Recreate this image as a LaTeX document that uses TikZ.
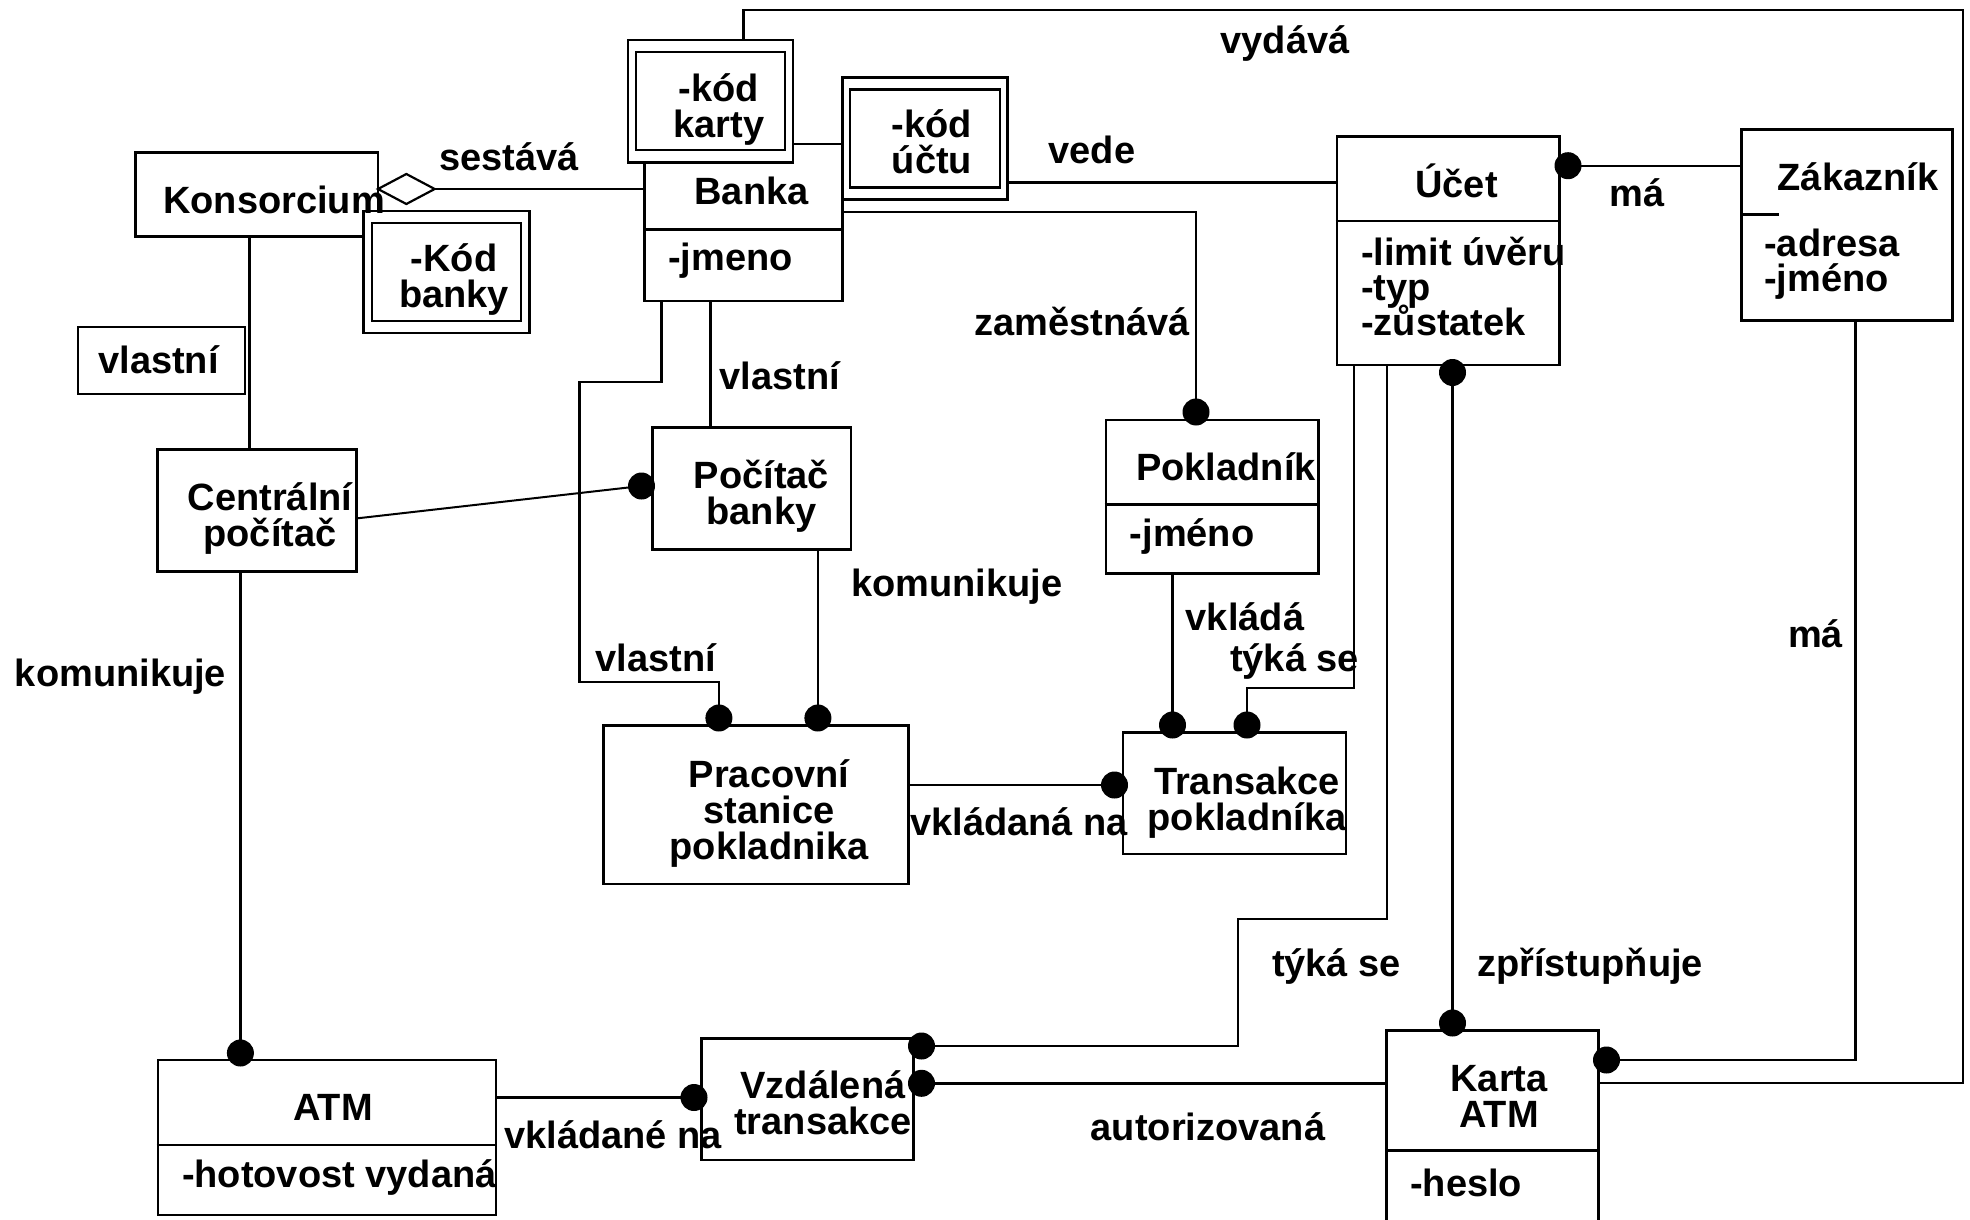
\documentclass[tikz,border=0pt]{standalone}
\usepackage{fontspec}
\setmainfont{Liberation Sans}
\newcommand\dgfont{\fontsize{38}{36}\selectfont\bfseries}
\newcommand\mlc[1]{\vtop{\baselineskip=36pt\lineskiplimit=-\maxdimen\halign{\hfil##\hfil\cr#1\crcr}}}
\newcommand\mll[1]{\vtop{\baselineskip=35pt\lineskiplimit=-\maxdimen\halign{##\hfil\cr#1\crcr}}}
\tikzset{
  box/.style={draw, line width=2.7pt, fill=white, inner sep=0pt, rectangle},
  boxl/.style={line width=2.7pt},
  conn/.style={line width=2.4pt},
  dot/.style={circle, fill=black, inner sep=0pt, minimum size=27pt},
  lbl/.style={font=\dgfont, inner sep=0pt, anchor=base},
  lblw/.style={font=\dgfont, inner sep=0pt, anchor=base west},
}
\begin{document}
\begin{tikzpicture}[x=1pt,y=-1pt]
\useasboundingbox (0,0) rectangle (1970,1220);
\fill[white] (0,0) rectangle (1970,1220);

% ---- Banka with qualifiers
\node[box, minimum width=198pt, minimum height=157pt] (banka) at (743.5,222.5) {};
\coordinate (bankaD) at (0,229.5);
\draw[boxl] (banka.west |- bankaD) -- (banka.east |- bankaD);
\node[box, minimum width=165pt, minimum height=122.3pt] (kodkarty) at (710.5,101.15) {};
\node[box, minimum width=149pt, minimum height=98pt] (kodkartyi) at (kodkarty.center) {};
\node[box, minimum width=164.9pt, minimum height=122pt] (koducu) at (924.95,138.3) {};
\node[box, minimum width=150pt, minimum height=98pt] (koducui) at (koducu.center) {};
\node[lbl] (bankaT) at (751.5,204) {Banka};
\node[lblw] (bankaA) at (668,270.7) {-jmeno};
\node[lbl] (kodkartyT) at (719,101.7) {\mlc{-kód\cr karty}};
\node[lbl] (koducuT) at (932,137.3) {\mlc{-kód\cr účtu}};

% ---- Konsorcium
\node[box, minimum width=242.3pt, minimum height=84pt] (kons) at (256.85,194.7) {};
\node[box, minimum width=165.7pt, minimum height=122pt] (kodbanky) at (446.55,272) {};
\node[box, minimum width=149pt, minimum height=98pt] (kodbankyi) at (kodbanky.center) {};
\node[lbl] (konsT) at (274,213.3) {Konsorcium};
\node[lbl] (kodbankyT) at (454,271.7) {\mlc{-Kód\cr banky}};

% ---- Účet
\node[box, minimum width=222.4pt, minimum height=228.3pt] (ucet) at (1448.2,250.85) {};
\coordinate (ucetD) at (0,221);
\draw[boxl] (ucet.west |- ucetD) -- (ucet.east |- ucetD);
\node[lbl] (ucetT) at (1456.5,197.3) {Účet};
\node[lblw] (ucetA) at (1361,265) {\mll{-limit úvěru\cr -typ\cr -zůstatek}};

% ---- Zákazník
\node[box, minimum width=211.1pt, minimum height=191.4pt] (zak) at (1847.05,225) {};
\coordinate (zakD) at (1779,214.3);
\draw[boxl] (zak.west |- zakD) -- (zakD);
\node[lbl] (zakT) at (1858,190) {Zákazník};
\node[lblw] (zakA) at (1764,256.7) {\mll{-adresa\cr -jméno}};

% ---- vlastní box
\node[box, line width=2pt, minimum width=166.6pt, minimum height=67.3pt] (vlbox) at (161.3,360.35) {};
\node[lbl] (vlboxT) at (158.5,373.3) {vlastní};

% ---- Centrální počítač
\node[box, minimum width=198.6pt, minimum height=122.4pt] (central) at (256.9,510.5) {};
\node[lbl] (centralT) at (270,510.7) {\mlc{Centrální\cr počítač}};

% ---- Počítač banky
\node[box, minimum width=198.5pt, minimum height=121.6pt] (pocitac) at (751.75,488.5) {};
\node[lbl] (pocitacT) at (761.5,488.3) {\mlc{Počítač\cr banky}};

% ---- Pokladník
\node[box, minimum width=212.4pt, minimum height=153.3pt] (pokl) at (1212.2,496.65) {};
\coordinate (poklD) at (0,504.3);
\draw[boxl] (pokl.west |- poklD) -- (pokl.east |- poklD);
\node[lbl] (poklT) at (1226,480.7) {Pokladník};
\node[lblw] (poklA) at (1129.6,546.7) {-jméno};

% ---- Pracovní stanice
\node[box, minimum width=305.2pt, minimum height=158.3pt] (prac) at (756.1,804.85) {};
\node[lbl] (pracT) at (769,787.3) {\mlc{Pracovní\cr stanice\cr pokladnika}};

% ---- Transakce pokladníka
\node[box, minimum width=223pt, minimum height=121.3pt] (trans) at (1234.5,793.35) {};
\node[lbl] (transT) at (1247,794) {\mlc{Transakce\cr pokladníka}};

% ---- ATM
\node[box, minimum width=338pt, minimum height=155pt] (atm) at (327,1137.5) {};
\coordinate (atmD) at (0,1145);
\draw[boxl] (atm.west |- atmD) -- (atm.east |- atmD);
\node[lbl] (atmT) at (333,1120.7) {ATM};
\node[lblw] (atmA) at (181.8,1187.3) {-hotovost vydaná};

% ---- Vzdálená transakce
\node[box, minimum width=211.7pt, minimum height=121.7pt] (vzd) at (807.45,1099.15) {};
\node[lbl] (vzdT) at (823,1098.3) {\mlc{Vzdálená\cr transakce}};

% ---- Karta ATM
\node[box, minimum width=212.2pt, minimum height=193.3pt] (karta) at (1492.7,1127.35) {};
\coordinate (kartaD) at (0,1150.7);
\draw[boxl] (karta.west |- kartaD) -- (karta.east |- kartaD);
\node[lbl] (kartaT) at (1499,1091.7) {\mlc{Karta\cr ATM}};
\node[lblw] (kartaA) at (1410,1196) {-heslo};

% ---- dots
\node[dot] (dPok) at (1196,412) {};
\node[dot] (dUcetR) at (1568,165.7) {};
\node[dot] (dUcetB) at (1452.5,372.5) {};
\node[dot] (dKartaT) at (1452.5,1023) {};
\node[dot] (dKartaR) at (1606.5,1060) {};
\node[dot] (dVz1) at (921.5,1046) {};
\node[dot] (dVz2) at (921.5,1083.3) {};
\node[dot] (dVzL) at (694,1097.5) {};
\node[dot] (dAtm) at (240.4,1053) {};
\node[dot] (dPr1) at (718.9,718) {};
\node[dot] (dPr2) at (817.9,718) {};
\node[dot] (dTr1) at (1172.5,725) {};
\node[dot] (dTr2) at (1247,725) {};
\node[dot] (dTrL) at (1114.5,785) {};
\node[dot] (dPoc) at (641.5,486) {};

% ---- connectors
% sestává (aggregation)
\coordinate (diamW) at (378,189);
\coordinate (diamE) at (434.7,189);
\draw[line width=2.2pt, fill=white] (diamW) -- (406.35,174) -- (diamE) -- (406.35,204) -- cycle;
\draw[conn] (diamE) -- (banka.west |- diamE);
% vydává
\coordinate (v1) at (743.6,10);
\coordinate (v2) at (1963,10);
\coordinate (v3) at (1963,1083);
\draw[conn] (v1 |- kodkarty.north) -- (v1) -- (v2) -- (v3) -- (karta.east |- v3);
% vede
\coordinate (vedeY) at (0,182.3);
\draw[conn] (koducu.east |- vedeY) -- (ucet.west |- vedeY);
% zaměstnává
\coordinate (z1) at (1196,211.7);
\draw[conn] (banka.east |- z1) -- (z1) -- (dPok.center);
% má (Účet - Zákazník)
\draw[conn] (dUcetR.center) -- (zak.west |- dUcetR);
% má (Zákazník - Karta)
\coordinate (m1) at (1855.6,1060);
\draw[conn] (zak.south -| m1) -- (m1) -- (dKartaR.center);
% zpřístupňuje
\draw[conn] (dUcetB.center) -- (dKartaT.center);
% týká se (Účet - Transakce)
\coordinate (t1) at (1353.8,688);
\coordinate (t2) at (1247,688);
\draw[conn] (ucet.south -| t1) -- (t1) -- (t2) -- (dTr2.center);
% týká se (Účet - Vzdálená)
\coordinate (s1) at (1386.7,919);
\coordinate (s2) at (1238,919);
\coordinate (s3) at (1238,1046);
\draw[conn] (ucet.south -| s1) -- (s1) -- (s2) -- (s3) -- (dVz1.center);
% autorizovaná
\draw[conn] (karta.west |- dVz2) -- (dVz2.center);
% vkládané na
\draw[conn] (atm.east |- dVzL) -- (dVzL.center);
% komunikuje (Centrální - ATM)
\draw[conn] (central.south -| dAtm) -- (dAtm.center);
% vlastní (Konsorcium - Centrální)
\coordinate (k1) at (249.5,0);
\draw[conn] (kons.south -| k1) -- (central.north -| k1);
% Centrální - Počítač banky
\coordinate (c1) at (0,518.3);
\draw[line width=2pt] (central.east |- c1) -- (dPoc.center);
% vlastní (Banka - Počítač)
\coordinate (b1) at (710.6,0);
\draw[conn] (banka.south -| b1) -- (pocitac.north -| b1);
% vlastní (Banka - Pracovní)
\coordinate (w1) at (661.5,381.7);
\coordinate (w2) at (579.5,381.7);
\coordinate (w3) at (579.5,681.7);
\coordinate (w4) at (718.9,681.7);
\draw[conn] (banka.south -| w1) -- (w1) -- (w2) -- (w3) -- (w4) -- (dPr1.center);
% komunikuje (Počítač - Pracovní)
\draw[conn] (pocitac.south -| dPr2) -- (dPr2.center);
% vkládaná na
\draw[conn] (prac.east |- dTrL) -- (dTrL.center);
% vkládá
\draw[conn] (pokl.south -| dTr1) -- (dTr1.center);

% ---- association labels
\node[lbl] (lSest) at (509,170.5) {sestává};
\node[lbl] (lVyd) at (1285,54) {vydává};
\node[lbl] (lVede) at (1092,164) {vede};
\node[lbl] (lMa1) at (1637,206.7) {má};
\node[lbl] (lZam) at (1082,335) {zaměstnává};
\node[lbl] (lVl1) at (780,389.3) {vlastní};
\node[lbl] (lKom1) at (120.5,686.7) {komunikuje};
\node[lbl] (lKom2) at (957,596.7) {komunikuje};
\node[lbl] (lVkl) at (1245,630) {vkládá};
\node[lbl] (lTyk1) at (1294.6,671.7) {týká se};
\node[lbl] (lVl2) at (656,671.7) {vlastní};
\node[lbl] (lVklNa) at (1019,835) {vkládaná na};
\node[lbl] (lVklNe) at (613,1148.3) {vkládané na};
\node[lbl] (lAut) at (1208,1140) {autorizovaná};
\node[lbl] (lTyk2) at (1336.5,976.7) {týká se};
\node[lbl] (lZpr) at (1590,976.7) {zpřístupňuje};
\node[lbl] (lMa2) at (1815.5,647) {má};
\end{tikzpicture}
\end{document}
